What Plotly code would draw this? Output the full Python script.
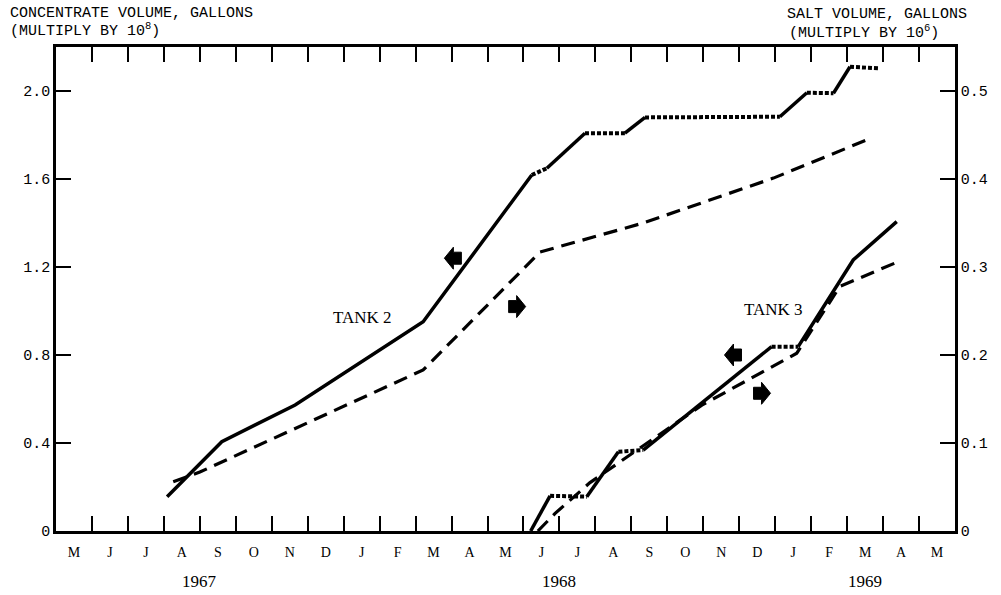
import plotly.graph_objects as go

# ---- data (x = months since 1 May 1967) ----
month_labels = ["M", "J", "J", "A", "S", "O", "N", "D", "J", "F", "M", "A",
                "M", "J", "J", "A", "S", "O", "N", "D", "J", "F", "M", "A", "M"]
year_labels = ["1967", "1968", "1969"]
year_pos = [4.0, 14.0, 22.5]

left_ticks = [0, 0.4, 0.8, 1.2, 1.6, 2.0]
left_ticktext = ["0", "0.4", "0.8", "1.2", "1.6", "2.0"]
right_ticks = [0, 0.1, 0.2, 0.3, 0.4, 0.5]
right_ticktext = ["0", "0.1", "0.2", "0.3", "0.4", "0.5"]

# Tank 2 concentrate volume (x 10^8 gal), idle flag per interval (1 = no filling)
t2_conc_month = [3.09, 4.61, 6.65, 10.21, 13.23, 13.65, 14.71, 15.82, 16.38,
                 20.13, 20.88, 21.62, 22.08, 22.91]
t2_conc_vol = [0.156, 0.406, 0.573, 0.951, 1.618, 1.649, 1.808, 1.808, 1.880,
               1.883, 1.992, 1.990, 2.110, 2.103]
t2_conc_idle = [0, 0, 0, 0, 1, 0, 1, 0, 1, 0, 1, 0, 1]

# Tank 2 salt volume (x 10^6 gal)
t2_salt_month = [3.26, 4.00, 10.21, 13.46, 16.33, 19.95, 22.64]
t2_salt_vol = [0.056, 0.067, 0.183, 0.317, 0.350, 0.401, 0.446]

# Tank 3 concentrate volume (x 10^8 gal)
t3_conc_month = [13.20, 13.74, 14.76, 15.64, 16.33, 19.90, 20.64, 22.17, 23.38]
t3_conc_vol = [0.0, 0.160, 0.156, 0.360, 0.368, 0.838, 0.838, 1.232, 1.406]
t3_conc_idle = [0, 1, 0, 1, 0, 1, 0, 0]

# Tank 3 salt volume (x 10^6 gal)
t3_salt_month = [13.40, 13.88, 14.85, 17.96, 20.60, 21.80, 23.42]
t3_salt_vol = [0.0, 0.020, 0.055, 0.143, 0.202, 0.278, 0.306]

MONO = "Liberation Mono"
SERIF = "Liberation Serif"
INK = "black"

fig = go.Figure()


def add_conc(xs, ys, idle):
    # group consecutive intervals with same state
    start = 0
    n = len(idle)
    while start < n:
        end = start
        while end + 1 < n and idle[end + 1] == idle[start]:
            end += 1
        seg_x = xs[start:end + 2]
        seg_y = ys[start:end + 2]
        if idle[start]:
            line = dict(color=INK, width=4, dash="4px,2px")
        else:
            line = dict(color=INK, width=3.5)
        fig.add_trace(go.Scatter(x=seg_x, y=seg_y, mode="lines", line=line,
                                 showlegend=False, hoverinfo="skip"))
        start = end + 1


add_conc(t2_conc_month, t2_conc_vol, t2_conc_idle)
add_conc(t3_conc_month, t3_conc_vol, t3_conc_idle)

for xs, ys in [(t2_salt_month, t2_salt_vol), (t3_salt_month, t3_salt_vol)]:
    fig.add_trace(go.Scatter(x=xs, y=ys, mode="lines", yaxis="y2",
                             line=dict(color=INK, width=3.2, dash="14px,8px"),
                             showlegend=False, hoverinfo="skip"))

# invisible trace to activate the top axis
fig.add_trace(go.Scatter(x=[0, 25], y=[0, 0], xaxis="x2", mode="lines",
                         line=dict(width=0), showlegend=False, hoverinfo="skip"))

annotations = []
# axis titles
annotations += [
    dict(text="CONCENTRATE VOLUME, GALLONS", xref="paper", yref="paper",
         x=-0.0534, y=1.070, xanchor="left", yanchor="middle", showarrow=False,
         font=dict(family=MONO, size=15, color=INK)),
    dict(text="(MULTIPLY BY 10<sup>8</sup>)", xref="paper", yref="paper",
         x=-0.0534, y=1.035, xanchor="left", yanchor="middle", showarrow=False,
         font=dict(family=MONO, size=15, color=INK)),
    dict(text="SALT VOLUME, GALLONS", xref="paper", yref="paper",
         x=0.811, y=1.068, xanchor="left", yanchor="middle", showarrow=False,
         font=dict(family=MONO, size=15, color=INK)),
    dict(text="(MULTIPLY BY 10<sup>6</sup>)", xref="paper", yref="paper",
         x=0.813, y=1.030, xanchor="left", yanchor="middle", showarrow=False,
         font=dict(family=MONO, size=15, color=INK)),
]
# years
for yl, yp in zip(year_labels, year_pos):
    annotations.append(dict(text=yl, x=yp, y=-0.105, xref="x", yref="paper",
                            showarrow=False, yanchor="middle",
                            font=dict(family=SERIF, size=17, color=INK)))
# tank labels
annotations += [
    dict(text="TANK 2", x=8.51, y=0.97, xref="x", yref="y", showarrow=False,
         font=dict(family=SERIF, size=17, color=INK)),
    dict(text="TANK 3", x=19.94, y=1.008, xref="x", yref="y", showarrow=False,
         font=dict(family=SERIF, size=17, color=INK)),
]

# axis-indicator block arrows (left -> concentrate axis, right -> salt axis)
LEFT_ARROW = "M -9,0 L 0,11 L 0,6 L 8,6 L 8,-6 L 0,-6 L 0,-11 Z"
RIGHT_ARROW = "M 9,0 L 0,11 L 0,6 L -8,6 L -8,-6 L 0,-6 L 0,-11 Z"
shapes = []
for ax_x, ax_y, path in [(11.05, 1.24, LEFT_ARROW), (12.81, 1.02, RIGHT_ARROW),
                         (18.84, 0.80, LEFT_ARROW), (19.62, 0.626, RIGHT_ARROW)]:
    shapes.append(dict(type="path", xref="x", yref="y",
                       xsizemode="pixel", ysizemode="pixel",
                       xanchor=ax_x, yanchor=ax_y, path=path,
                       fillcolor=INK, line=dict(color=INK, width=1)))

fig.update_layout(
    width=1001, height=595,
    margin=dict(l=56, r=46, t=47, b=64),
    paper_bgcolor="white", plot_bgcolor="white",
    showlegend=False,
    xaxis=dict(range=[0, 25], tickmode="array",
               tickvals=[i + 0.5 for i in range(25)], ticktext=month_labels,
               ticks="", showgrid=False, zeroline=False,
               showline=True, linecolor=INK, linewidth=2.5,
               tickfont=dict(family=SERIF, size=14, color=INK),
               ticklabelstandoff=6,
               minor=dict(tickmode="array", tickvals=list(range(1, 25)),
                          ticks="inside", ticklen=15, tickwidth=1.8,
                          tickcolor=INK, showgrid=False)),
    xaxis2=dict(range=[0, 25], overlaying="x", side="top", anchor="y",
                tickmode="array", tickvals=list(range(1, 25)),
                ticks="inside", ticklen=15, tickwidth=1.8, tickcolor=INK,
                showticklabels=False, showgrid=False, zeroline=False,
                showline=True, linecolor=INK, linewidth=2.5),
    yaxis=dict(range=[0, 2.2], tickmode="array", tickvals=left_ticks,
               ticktext=left_ticktext, ticks="inside", ticklen=15,
               tickwidth=1.8, tickcolor=INK, showgrid=False, zeroline=False,
               showline=True, linecolor=INK, linewidth=2.5,
               tickfont=dict(family=MONO, size=15, color=INK)),
    yaxis2=dict(range=[0, 0.55], overlaying="y", side="right",
                tickmode="array", tickvals=right_ticks,
                ticktext=right_ticktext, ticks="inside", ticklen=15,
                tickwidth=1.8, tickcolor=INK, showgrid=False, zeroline=False,
                showline=True, linecolor=INK, linewidth=2.5,
                tickfont=dict(family=MONO, size=15, color=INK)),
    annotations=annotations,
    shapes=shapes,
)

fig.write_html("out.html")
